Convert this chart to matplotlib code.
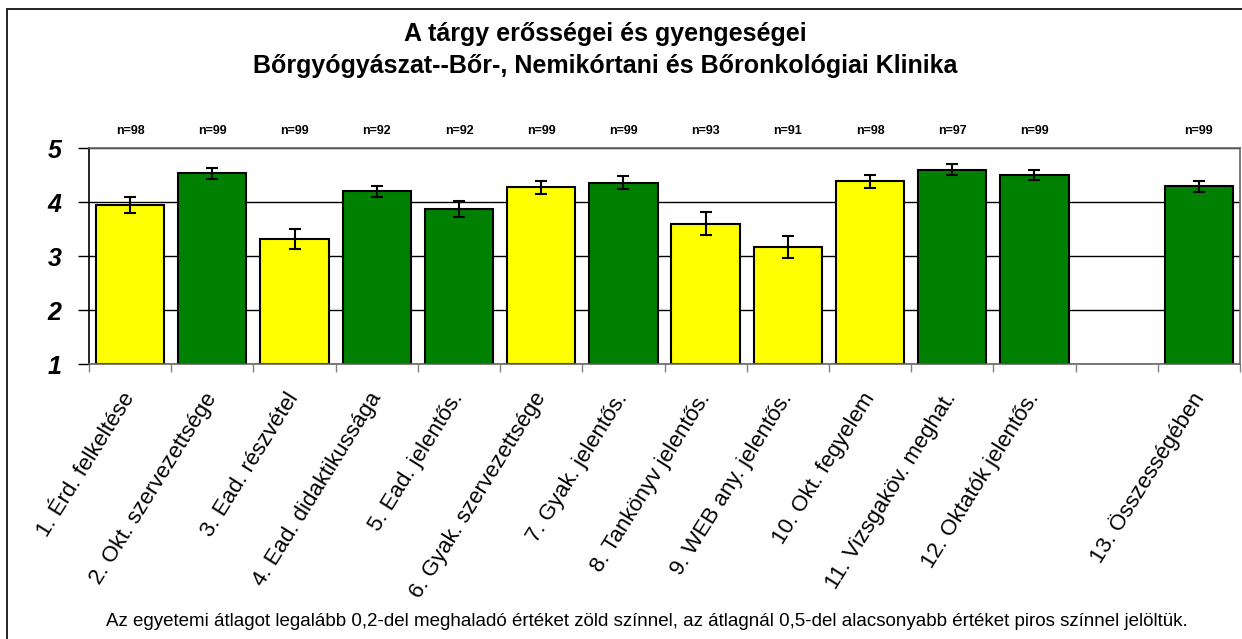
import matplotlib
matplotlib.use('Agg')
import matplotlib.pyplot as plt
import numpy as np
from matplotlib.patches import Rectangle

plt.rcParams['font.family'] = ['Liberation Sans', 'DejaVu Sans']

# chart data
labels = ['1. Érd. felkeltése', '2. Okt. szervezettsége', '3. Ead. részvétel',
          '4. Ead. didaktikussága', '5. Ead. jelentős.', '6. Gyak. szervezettsége',
          '7. Gyak. jelentős.', '8. Tankönyv jelentős.', '9. WEB any. jelentős.',
          '10. Okt. fegyelem', '11. Vizsgaköv. meghat.', '12. Oktatók jelentős.',
          '', '13. Összességében']
means = [3.95, 4.53, 3.31, 4.20, 3.87, 4.27, 4.36, 3.60, 3.17, 4.38, 4.60, 4.50, np.nan, 4.29]
errs = [0.145, 0.10, 0.185, 0.10, 0.145, 0.127, 0.117, 0.21, 0.20, 0.123, 0.10, 0.10, np.nan, 0.105]
counts = ['n=98', 'n=99', 'n=99', 'n=92', 'n=92', 'n=99', 'n=99', 'n=93', 'n=91',
          'n=98', 'n=97', 'n=99', '', 'n=99']
colors = ['#FFFF00', '#008000', '#FFFF00', '#008000', '#008000', '#FFFF00', '#008000',
          '#FFFF00', '#FFFF00', '#FFFF00', '#008000', '#008000', '#FFFFFF', '#008000']

title = 'A tárgy erősségei és gyengeségei\nBőrgyógyászat--Bőr-, Nemikórtani és Bőronkológiai Klinika'
note = ('Az egyetemi átlagot legalább 0,2-del meghaladó értéket zöld színnel, '
        'az átlagnál 0,5-del alacsonyabb értéket piros színnel jelöltük.')

fig = plt.figure(figsize=(12.42, 6.39), dpi=100)
ax = fig.add_axes([89/1242, 1 - 364/639, (1240 - 89)/1242, (364 - 148)/639])

x = np.arange(len(labels))
ax.set_axisbelow(True)
ax.yaxis.grid(True, color='black', lw=1)
ax.bar(x, np.array(means) - 1, bottom=1, width=0.83, color=colors,
       edgecolor='black', lw=1.5, zorder=2)
ax.errorbar(x, means, yerr=errs, fmt='none', ecolor='black', elinewidth=1.5,
            capsize=4, capthick=1.5, zorder=3)

ax.set_xlim(-0.5, len(labels) - 0.5)
ax.set_ylim(1, 5)
ax.set_yticks([1, 2, 3, 4, 5])
ax.set_yticklabels(['1', '2', '3', '4', '5'], fontsize=18, fontweight='bold', style='italic')
ax.tick_params(axis='y', length=8, width=1, pad=12)

ax.set_xticks(np.arange(len(labels) + 1) - 0.5)
ax.set_xticklabels([])
ax.tick_params(axis='x', length=6, width=1, color='#808080')
for i, lab in enumerate(labels):
    ax.annotate(lab, xy=(i, 0), xycoords=ax.get_xaxis_transform(),
                xytext=(0, -22), textcoords='offset points',
                rotation=58, rotation_mode='anchor', ha='right', va='center',
                fontsize=16)

for i, c in enumerate(counts):
    ax.text(i, 1.08, c, ha='center', va='center', fontsize=9, fontweight='bold',
            transform=ax.get_xaxis_transform())

for s in ['top', 'right', 'bottom']:
    ax.spines[s].set_color('#666666')
    ax.spines[s].set_linewidth(1.2)
ax.spines['left'].set_color('black')
ax.spines['left'].set_linewidth(1.2)

fig.text(605/1242, 1 - 50/639, title, ha='center', va='center', fontsize=18,
         fontweight='bold', linespacing=1.38)
fig.text(647/1242, 1 - 622/639, note, ha='center', va='center', fontsize=13.5)

fig.add_artist(Rectangle((7/1242, -0.1), 1.2, 1.1 - 9/639, transform=fig.transFigure,
                         fill=False, edgecolor='black', lw=1.2))

fig.savefig('out.png', dpi=100)
